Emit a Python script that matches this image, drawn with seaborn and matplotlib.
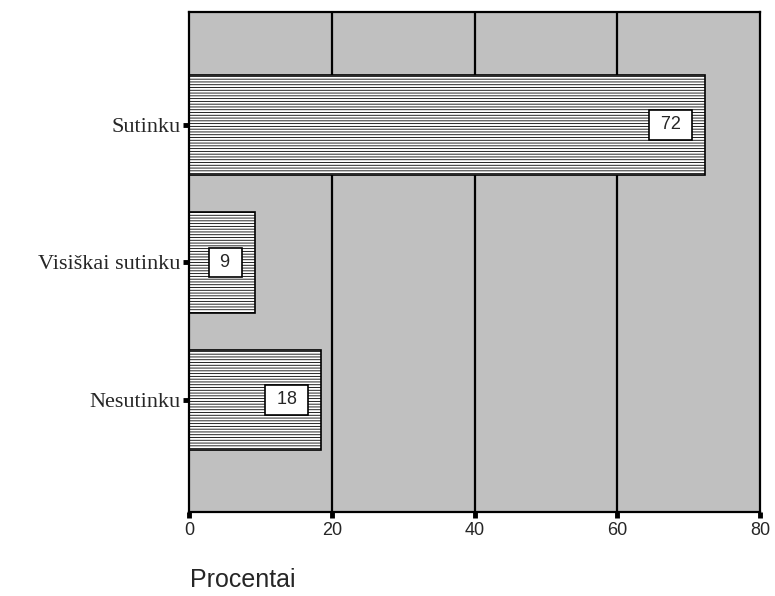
import matplotlib
matplotlib.use('Agg')
import matplotlib.pyplot as plt
import seaborn as sns
import pandas as pd

categories = ['Sutinku', 'Visiškai sutinku', 'Nesutinku']
percents = [72.3, 9.2, 18.5]
labels = ['72', '9', '18']

sns.set_style('white')
plt.rcParams['hatch.color'] = '#adadad'
plt.rcParams['hatch.linewidth'] = 0.6

data = pd.DataFrame({'Kategorija': categories, 'Procentai': percents})

fig = plt.figure(figsize=(7.75, 5.96), dpi=100)
ax = fig.add_axes([0.2439, 0.1409, 0.7368, 0.839])
ax.set_facecolor('#c0c0c0')

sns.barplot(data=data, x='Procentai', y='Kategorija', orient='h', color='white',
            width=0.73, edgecolor='black', linewidth=1.2, hatch='------', ax=ax)

# vertical grid lines
for g in [20, 40, 60]:
    ax.axvline(g, color='black', lw=1.6, zorder=0.5)

ax.set_xlim(0, 80)
ax.set_ylim(2.815, -0.82)
ax.set_xticks([0, 20, 40, 60, 80])

# value boxes
for i, (v, lab) in enumerate(zip(percents, labels)):
    ax.annotate(' ' + lab + ' ', xy=(v, i), xytext=(-14, 0), textcoords='offset points',
                ha='right', va='center', fontsize=13, family='Liberation Sans',
                bbox=dict(boxstyle='square,pad=0.35', fc='white', ec='black', lw=1.2))

for s in ax.spines.values():
    s.set_visible(True)
    s.set_color('black')
    s.set_linewidth(1.6)

ax.tick_params(axis='x', bottom=True, direction='out', length=4, width=3.5,
               color='black', labelsize=13, pad=3)
ax.tick_params(axis='y', left=True, direction='out', length=4, width=3.5,
               color='black', labelsize=16, pad=2)
for t in ax.get_xticklabels():
    t.set_family('Liberation Sans')
for t in ax.get_yticklabels():
    t.set_family('Liberation Serif')

ax.set_ylabel('')
ax.set_xlabel('')
fig.text(0.2452, 0.015, 'Procentai', fontsize=18, family='Liberation Sans',
         va='baseline', ha='left')

fig.savefig('out.png', dpi=100)
